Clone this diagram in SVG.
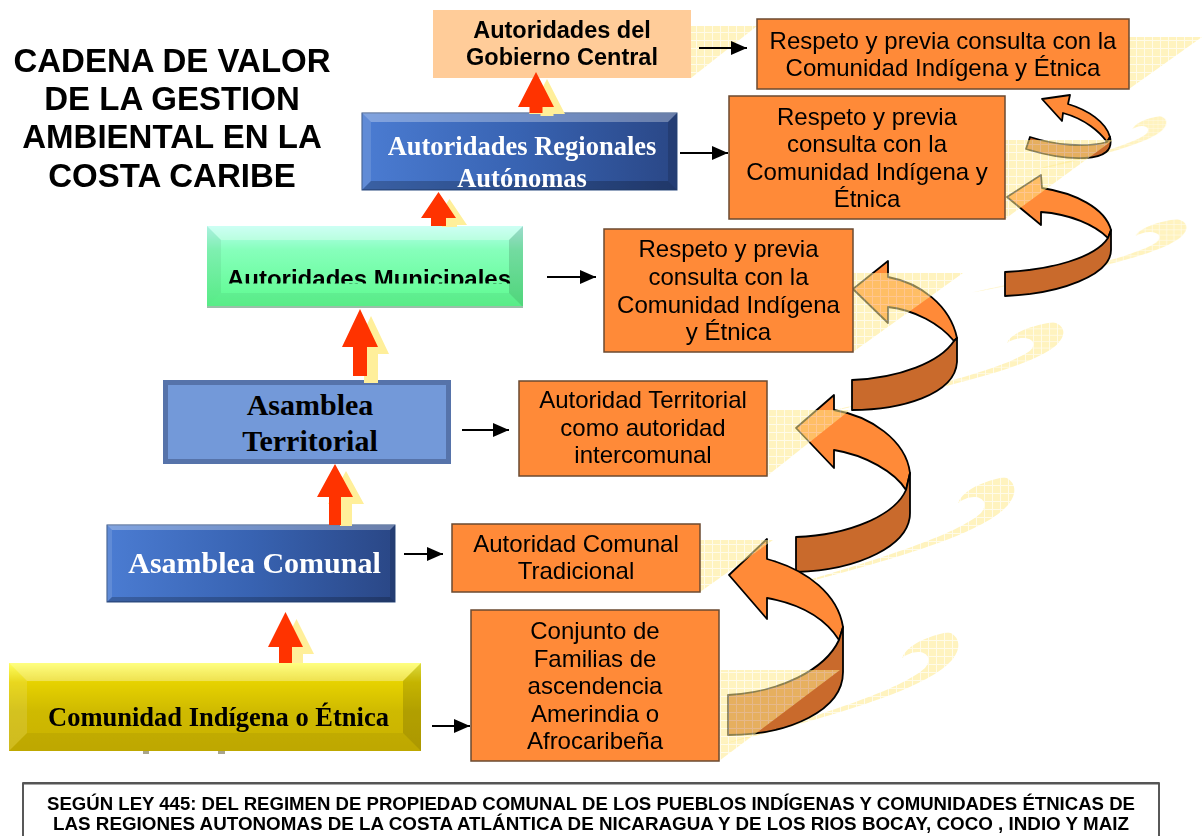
<svg xmlns="http://www.w3.org/2000/svg" width="1204" height="836" viewBox="0 0 1204 836">
<defs>
<style>
.ob{fill:#FF8A38;stroke:#6B4A30;stroke-width:1.5}
.ot{font-family:"Liberation Sans",Arial,sans-serif;font-size:24px;fill:#000;text-anchor:middle}
.af{fill:#FF8A38;stroke:#000;stroke-width:1.8;stroke-linejoin:round}
.ad{fill:#C96A2C;stroke:#000;stroke-width:1.8;stroke-linejoin:round}
.sh{fill:url(#chk);opacity:.55}
.ra{fill:#FF3300}
.rs{fill:#FFEF9A}
.cn line{stroke:#000;stroke-width:2;marker-end:url(#ah)}
.sf{font-family:"Liberation Serif","Times New Roman",serif;font-weight:bold;text-anchor:middle}
.sb{font-family:"Liberation Sans",Arial,sans-serif;font-weight:bold;text-anchor:middle}
.bt{fill:#fff;opacity:.3}
.bl{fill:#fff;opacity:.12}
.br{fill:#000;opacity:.14}
.bb{fill:#000;opacity:.22}
</style>
<pattern id="chk" width="8" height="8" patternUnits="userSpaceOnUse">
<rect width="8" height="8" fill="#FFE98A"/>
<path d="M0 0.5H8M0.5 0V8" stroke="#FFF8D8" stroke-width="1"/>
</pattern>
<marker id="ah" markerWidth="16" markerHeight="14" refX="16" refY="7" orient="auto" markerUnits="userSpaceOnUse"><path d="M0,0 L16,7 L0,14 Z" fill="#000"/></marker>
<linearGradient id="gb" x1="0" y1="0" x2="1" y2="0"><stop offset="0" stop-color="#4B7CD2"/><stop offset="0.5" stop-color="#3863B2"/><stop offset="1" stop-color="#2A4786"/></linearGradient>
<linearGradient id="gg" x1="0" y1="0" x2="0" y2="1"><stop offset="0" stop-color="#B8FFF0"/><stop offset="0.3" stop-color="#86FFBB"/><stop offset="1" stop-color="#5CFA8E"/></linearGradient>
<linearGradient id="gy" x1="0" y1="0" x2="0" y2="1"><stop offset="0" stop-color="#FFFF4A"/><stop offset="0.22" stop-color="#E6D200"/><stop offset="0.55" stop-color="#CFBA00"/><stop offset="1" stop-color="#C9B100"/></linearGradient>
<clipPath id="mc"><rect x="207" y="226" width="316" height="57.5"/></clipPath>
<path id="sw" d="M948,632 C960,636 962,648 952,660 C930,685 860,710 720,745 C830,712 900,690 925,668 C932,660 928,652 918,652 C912,652 906,655 902,658 C906,648 920,638 948,632 Z"/>
</defs>
<rect width="1204" height="836" fill="#fff"/>

<g id="swooshes" class="sh">
<use href="#sw"/>
<use href="#sw" transform="translate(56,-155)"/>
<use href="#sw" transform="translate(1053,322) scale(1,0.8) translate(-948,-632)"/>
<use href="#sw" transform="translate(1177,219) scale(0.9,0.65) translate(-948,-632)"/>
<use href="#sw" transform="translate(1160,116) scale(0.6,0.5) translate(-948,-632)"/>
</g>

<g id="curved-arrows">
<path class="af" d="M1042,99 L1070,95 L1068,104 C1088,110 1106,122 1110,137 L1107,142 C1100,132 1085,119 1063,113 L1062,121 Z"/>
<path class="ad" d="M1110,137 C1113,150 1105,157 1085,158 C1065,159 1045,155 1026,149 L1030,137 C1055,145 1085,148 1107,142 Z"/>
<path class="af" d="M1007,197 L1041,175 L1042,188 C1075,193 1105,208 1111,230 L1108,238 C1095,225 1070,214 1041,212 L1041,225 Z"/>
<path class="ad" d="M1111,230 L1111,250 C1111,275 1060,294 1005,296 L1005,272 C1050,270 1095,258 1108,238 Z"/>
<path class="af" d="M853,289 L888,261 L888,277 C920,283 950,305 957,338 L954,341 C940,324 915,310 888,307 L888,323 Z"/>
<path class="ad" d="M957,338 L957,362 C955,395 900,410 852,410 L852,380 C900,378 940,362 954,341 Z"/>
<path class="af" d="M796,428 L834,395 L834,410 C870,416 906,440 910,473 L906,490 C895,472 865,455 834,450 L834,468 Z"/>
<path class="ad" d="M910,473 L910,513 C910,545 860,570 796,572 L796,537 C850,535 895,515 906,490 Z"/>
<path class="af" d="M729,575 L767,539 L767,559 C808,570 838,595 843,627 L839,640 C825,618 800,604 767,598 L767,619 Z"/>
<path class="ad" d="M843,627 L843,672 C843,710 790,735 728,735 L728,695 C780,692 825,670 839,640 Z"/>
</g>

<g id="box-shadows" class="sh">
<polygon points="433,78 691,78 757,26 499,26"/>
<polygon points="757,89 1129,89 1202,37 830,37"/>
<polygon points="729,219 1005,219 1113,140 837,140"/>
<polygon points="604,352 853,352 963,273 714,273"/>
<polygon points="519,476 767,476 850,410 602,410"/>
<polygon points="452,592 700,592 773,540 525,540"/>
<polygon points="471,761 719,761 840,670 592,670"/>
</g>

<g id="connectors" class="cn">
<line x1="699" y1="48" x2="747" y2="48"/>
<line x1="680" y1="153" x2="728" y2="153"/>
<line x1="547" y1="277" x2="596" y2="277"/>
<line x1="462" y1="430" x2="509" y2="430"/>
<line x1="404" y1="554" x2="443" y2="554"/>
<line x1="432" y1="726" x2="470" y2="726"/>
</g>

<g id="title">
<text class="sb" font-size="33" x="172" y="72">CADENA DE VALOR</text>
<text class="sb" font-size="33" x="172" y="110">DE LA GESTION</text>
<text class="sb" font-size="33" x="172" y="148">AMBIENTAL EN LA</text>
<text class="sb" font-size="33" x="172" y="187">COSTA CARIBE</text>
</g>

<g id="gobierno-central">
<rect x="433" y="10" width="258" height="68" fill="#FFCC99"/>
<text class="sb" font-size="23.5" x="562" y="38">Autoridades del</text>
<text class="sb" font-size="23.5" x="562" y="65">Gobierno Central</text>
</g>

<g id="regionales">
<rect x="362" y="113" width="315" height="77" fill="url(#gb)" stroke="#2A4A80" stroke-width="1"/>
<polygon class="bt" points="362,113 677,113 668,122 371,122"/>
<polygon class="bl" points="362,113 371,122 371,181 362,190"/>
<polygon class="br" points="677,113 668,122 668,181 677,190"/>
<polygon class="bb" points="362,190 371,181 668,181 677,190"/>
<text class="sf" font-size="26.5" fill="#fff" x="522" y="155">Autoridades Regionales</text>
<text class="sf" font-size="26.5" fill="#fff" x="522" y="187">Autónomas</text>
</g>

<g id="municipales">
<rect x="207" y="226" width="316" height="81" fill="url(#gg)"/>
<polygon class="bt" points="207,226 523,226 509,240 221,240"/>
<polygon fill="#000" opacity=".06" points="207,226 221,240 221,293 207,307"/>
<polygon class="br" points="523,226 509,240 509,293 523,307"/>
<polygon fill="#000" opacity=".05" points="207,307 221,293 509,293 523,307"/>
<line x1="207" y1="307" x2="523" y2="307" stroke="#9ABFA8" stroke-width="2"/>
<text class="sb" font-size="24" x="369" y="287" clip-path="url(#mc)">Autoridades Municipales</text>
</g>

<g id="territorial">
<rect x="165.5" y="382.5" width="283" height="79" fill="#7399D9" stroke="#5673AA" stroke-width="5"/>
<text class="sf" font-size="30" fill="#000" x="310" y="415">Asamblea</text>
<text class="sf" font-size="30" fill="#000" x="310" y="451">Territorial</text>
</g>

<g id="comunal">
<rect x="107" y="525" width="288" height="77" fill="url(#gb)" stroke="#2A4A80" stroke-width="1"/>
<polygon class="bt" points="107,525 395,525 390,530 112,530"/>
<polygon class="bl" points="107,525 112,530 112,597 107,602"/>
<polygon class="br" points="395,525 390,530 390,597 395,602"/>
<polygon class="bb" points="107,602 112,597 390,597 395,602"/>
<text class="sf" font-size="30" fill="#fff" x="254.5" y="573">Asamblea Comunal</text>
</g>

<g id="comunidad">
<rect x="9" y="663" width="412" height="88" fill="url(#gy)"/>
<polygon class="bt" points="9,663 421,663 403,681 27,681"/>
<polygon class="bl" points="9,663 27,681 27,733 9,751"/>
<polygon class="br" points="421,663 403,681 403,733 421,751"/>
<polygon fill="#000" opacity=".05" points="9,751 27,733 403,733 421,751"/>
<text class="sf" font-size="27" fill="#000" x="218.5" y="726" textLength="341" lengthAdjust="spacingAndGlyphs">Comunidad Indígena o Étnica</text>
<rect x="143" y="751" width="6" height="3" fill="#A9A58C"/>
<rect x="218" y="751" width="7" height="3" fill="#A9A58C"/>
</g>

<g id="up-arrows">
<polygon class="rs" points="547,79 565,114 553.5,114 553.5,116 540.5,116 540.5,114 529,114"/>
<polygon class="ra" points="536,72 554,107 542.5,107 542.5,113 529.5,113 529.5,107 518,107"/>
<polygon class="rs" points="449.5,199 467,225 457,225 457,227 442,227 442,225 432,225"/>
<polygon class="ra" points="438.5,192 456,218 446,218 446,226 431,226 431,218 421,218"/>
<polygon class="rs" points="371,316 389,354 378,354 378,383 364,383 364,354 353,354"/>
<polygon class="ra" points="360,309 378,347 367,347 367,376 353,376 353,347 342,347"/>
<polygon class="rs" points="346,471 364,504 352,504 352,526 340,526 340,504 328,504"/>
<polygon class="ra" points="335,464 353,497 341,497 341,525 329,525 329,497 317,497"/>
<polygon class="rs" points="296.5,619 314,654 303,654 303,663 290,663 290,654 279,654"/>
<polygon class="ra" points="285.5,612 303,647 292,647 292,663 279,663 279,647 268,647"/>
</g>

<g id="respeto-1">
<rect class="ob" x="757" y="19" width="372" height="70"/>
<text class="ot" x="943" y="49">Respeto y previa consulta con la</text>
<text class="ot" x="943" y="76">Comunidad Indígena y Étnica</text>
</g>

<g id="respeto-2">
<rect class="ob" x="729" y="96" width="276" height="123"/>
<text class="ot" x="867" y="125">Respeto y previa</text>
<text class="ot" x="867" y="152">consulta con la</text>
<text class="ot" x="867" y="180">Comunidad Indígena y</text>
<text class="ot" x="867" y="207">Étnica</text>
</g>

<g id="respeto-3">
<rect class="ob" x="604" y="229" width="249" height="123"/>
<text class="ot" x="728.5" y="257">Respeto y previa</text>
<text class="ot" x="728.5" y="285">consulta con la</text>
<text class="ot" x="728.5" y="313">Comunidad Indígena</text>
<text class="ot" x="728.5" y="340">y Étnica</text>
</g>

<g id="autoridad-territorial">
<rect class="ob" x="519" y="381" width="248" height="95"/>
<text class="ot" x="643" y="408">Autoridad Territorial</text>
<text class="ot" x="643" y="436">como autoridad</text>
<text class="ot" x="643" y="463">intercomunal</text>
</g>

<g id="autoridad-comunal">
<rect class="ob" x="452" y="524" width="248" height="68"/>
<text class="ot" x="576" y="552">Autoridad Comunal</text>
<text class="ot" x="576" y="579">Tradicional</text>
</g>

<g id="conjunto">
<rect class="ob" x="471" y="610" width="248" height="151"/>
<text class="ot" x="595" y="639">Conjunto de</text>
<text class="ot" x="595" y="667">Familias de</text>
<text class="ot" x="595" y="694">ascendencia</text>
<text class="ot" x="595" y="722">Amerindia o</text>
<text class="ot" x="595" y="749">Afrocaribeña</text>
</g>

<g id="ley-445">
<rect x="23" y="783" width="1136" height="70" fill="#fff" stroke="#222" stroke-width="1.5"/>
<line x1="23" y1="783.5" x2="1159" y2="783.5" stroke="#555" stroke-width="2"/>
<text class="sb" font-size="19" x="591" y="810" textLength="1088" lengthAdjust="spacingAndGlyphs">SEGÚN LEY 445: DEL REGIMEN DE PROPIEDAD COMUNAL DE LOS PUEBLOS INDÍGENAS Y COMUNIDADES ÉTNICAS DE</text>
<text class="sb" font-size="19" x="591" y="830" textLength="1076" lengthAdjust="spacingAndGlyphs">LAS REGIONES AUTONOMAS DE LA COSTA ATLÁNTICA DE NICARAGUA Y DE LOS RIOS BOCAY, COCO , INDIO Y MAIZ</text>
</g>
</svg>
